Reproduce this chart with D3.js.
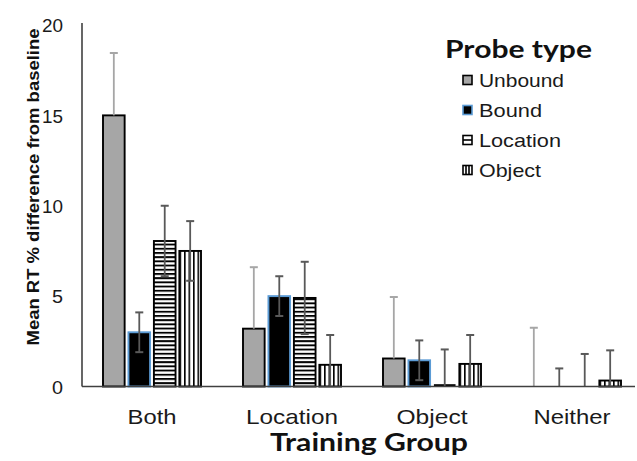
<!DOCTYPE html>
<html>
<head>
<meta charset="utf-8">
<script src="https://cdn.jsdelivr.net/npm/d3@7"></script>
<style>
  html, body { margin: 0; padding: 0; background: #fff; }
  svg { display: block; }
</style>
</head>
<body>
<svg id="chart" width="637" height="461"></svg>
<script>
// ---- data ----
const groups = ["Both", "Location", "Object", "Neither"];
const probeTypes = ["Unbound", "Bound", "Location", "Object"];
const unbound = [15.0, 3.2, 1.55, 0];
const bound = [3.0, 5.0, 1.45, 0];
const locationVals = [8.05, 4.9, 0.05, 0];
const objectVals = [7.5, 1.2, 1.25, 0.33];
const unboundErr = [3.45, 3.4, 3.4, 3.25];
const boundErr = [1.1, 1.1, 1.1, 1.0];
const locationErr = [1.95, 2.0, 2.0, 1.8];
const objectErr = [1.65, 1.65, 1.6, 1.67];
const yTicks = [0, 5, 10, 15, 20];

const values = [unbound, bound, locationVals, objectVals];
const errors = [unboundErr, boundErr, locationErr, objectErr];

const svg = d3.select("#chart");
const defs = svg.append("defs");

// patterns
const ph = defs.append("pattern").attr("id", "hstripe")
  .attr("patternUnits", "userSpaceOnUse").attr("width", 8).attr("height", 4.2);
ph.append("rect").attr("width", 8).attr("height", 4.2).attr("fill", "#fff");
ph.append("rect").attr("y", 0).attr("width", 8).attr("height", 1.9).attr("fill", "#000");

const pv = defs.append("pattern").attr("id", "vstripe")
  .attr("patternUnits", "userSpaceOnUse").attr("width", 4.5).attr("height", 8);
pv.append("rect").attr("width", 4.5).attr("height", 8).attr("fill", "#fff");
pv.append("rect").attr("x", 0).attr("width", 1.6).attr("height", 8).attr("fill", "#000");

const fills = ["#a6a6a6", "#000000", "url(#hstripe)", "url(#vstripe)"];
const strokes = ["#000000", "#5b9bd5", "#000000", "#000000"];
const errColors = ["#a6a6a6", "#595959", "#595959", "#595959"];

// scales
const x0 = d3.scaleBand().domain(groups).range([82, 642]).paddingInner(0.3).paddingOuter(0.15);
const x1 = d3.scaleBand().domain(probeTypes).range([0, x0.bandwidth()]).paddingInner(0.15).paddingOuter(0);
const y = d3.scaleLinear().domain([0, 20]).range([386.5, 25]);
const fullX = d3.scaleBand().domain(groups).range([82, 642]);

// bars
const gGroups = svg.append("g").selectAll("g").data(groups).join("g")
  .attr("transform", d => `translate(${x0(d)},0)`);

probeTypes.forEach((p, pi) => {
  gGroups.append("rect")
    .attr("x", x1(p))
    .attr("y", (d, gi) => y(values[pi][gi]))
    .attr("width", x1.bandwidth())
    .attr("height", (d, gi) => y(0) - y(values[pi][gi]))
    .attr("fill", fills[pi])
    .attr("stroke", (d, gi) => values[pi][gi] > 0.2 ? strokes[pi] : "none")
    .attr("stroke-width", 1.9);
});

// thin base line for near-zero location bar
gGroups.append("line")
  .attr("x1", x1("Location")).attr("x2", x1("Location") + x1.bandwidth())
  .attr("y1", (d, gi) => y(locationVals[gi]) - 0.5).attr("y2", (d, gi) => y(locationVals[gi]) - 0.5)
  .attr("stroke", (d, gi) => (locationVals[gi] > 0 && locationVals[gi] <= 0.2) ? "#000" : "none")
  .attr("stroke-width", 1.8);

// error bars
probeTypes.forEach((p, pi) => {
  const cx = x1(p) + x1.bandwidth() / 2;
  gGroups.each(function(d, gi) {
    const g = d3.select(this);
    const v = values[pi][gi], e = errors[pi][gi];
    const top = y(v + e);
    const lowVal = pi === 0 ? v : Math.max(0, v - e);
    const bot = y(lowVal);
    g.append("line").attr("x1", cx).attr("x2", cx).attr("y1", top).attr("y2", bot)
      .attr("stroke", errColors[pi]).attr("stroke-width", 1.8);
    g.append("line").attr("x1", cx - 4).attr("x2", cx + 4).attr("y1", top).attr("y2", top)
      .attr("stroke", errColors[pi]).attr("stroke-width", 2);
    if (pi !== 0 && v - e > 0) {
      g.append("line").attr("x1", cx - 4).attr("x2", cx + 4).attr("y1", bot).attr("y2", bot)
        .attr("stroke", errColors[pi]).attr("stroke-width", 2);
    }
  });
});

// axes
const yAxis = svg.append("g").attr("transform", "translate(82,0)")
  .call(d3.axisLeft(y).tickValues(yTicks).tickSize(0).tickPadding(19));
yAxis.select(".domain").attr("stroke", "#404040").attr("stroke-width", 1.6)
  .attr("d", `M0,${y(20) - 2}V${y(0)}`);
yAxis.selectAll("text").attr("font-family", "'Liberation Sans', Arial, sans-serif")
  .attr("font-size", 18.5).attr("fill", "#1a1a1a")
  .attr("textLength", 21).attr("lengthAdjust", "spacingAndGlyphs")
  .attr("dy", "0.36em");
yAxis.selectAll("text").filter(d => d < 10).attr("textLength", 11);

const xAxis = svg.append("g").attr("transform", `translate(0,${y(0)})`)
  .call(d3.axisBottom(fullX).tickSize(0).tickPadding(23));
xAxis.select(".domain").attr("stroke", "#404040").attr("stroke-width", 1.6)
  .attr("d", "M82,0H635");
const catLen = { "Both": 49, "Location": 92, "Object": 71, "Neither": 77 };
xAxis.selectAll("text").attr("font-family", "'Liberation Sans', Arial, sans-serif")
  .attr("font-size", 21).attr("fill", "#1a1a1a")
  .attr("textLength", d => catLen[d]).attr("lengthAdjust", "spacingAndGlyphs");

// axis titles
svg.append("text")
  .attr("x", 369).attr("y", 451).attr("text-anchor", "middle")
  .attr("font-family", "Lato, 'Open Sans', sans-serif").attr("font-weight", "bold")
  .attr("font-size", 25).attr("fill", "#111")
  .attr("textLength", 198).attr("lengthAdjust", "spacingAndGlyphs")
  .text("Training Group");

svg.append("text")
  .attr("transform", "translate(39,187) rotate(-90)")
  .attr("text-anchor", "middle")
  .attr("font-family", "'Liberation Sans', Arial, sans-serif").attr("font-weight", "bold")
  .attr("font-size", 16).attr("fill", "#111")
  .attr("textLength", 317).attr("lengthAdjust", "spacingAndGlyphs")
  .text("Mean RT % difference from baseline");

// legend
svg.append("text")
  .attr("x", 445).attr("y", 58)
  .attr("font-family", "Lato, 'Open Sans', sans-serif").attr("font-weight", "bold")
  .attr("font-size", 24).attr("fill", "#111")
  .attr("textLength", 147).attr("lengthAdjust", "spacingAndGlyphs")
  .text("Probe type");

const legLen = [85, 63, 82, 62];
const leg = svg.append("g").selectAll("g").data(probeTypes).join("g")
  .attr("transform", (d, i) => `translate(463,${80 + i * 30})`);
leg.append("rect").attr("x", 0).attr("y", -4.5).attr("width", 9).attr("height", 9)
  .attr("fill", (d, i) => i === 0 ? "#a6a6a6" : (i === 1 ? "#000" : "#fff"))
  .attr("stroke", (d, i) => strokes[i]).attr("stroke-width", 1.6);
leg.filter((d, i) => i === 2).append("line")
  .attr("x1", 0).attr("x2", 9).attr("y1", 0).attr("y2", 0).attr("stroke", "#000").attr("stroke-width", 1.6);
leg.filter((d, i) => i === 3).selectAll("line.v").data([3, 6]).join("line")
  .attr("x1", d => d).attr("x2", d => d).attr("y1", -4.5).attr("y2", 4.5)
  .attr("stroke", "#000").attr("stroke-width", 1.6);
leg.append("text").attr("x", 16).attr("y", 7)
  .attr("font-family", "'Liberation Sans', Arial, sans-serif")
  .attr("font-size", 18.5).attr("fill", "#1a1a1a")
  .attr("textLength", (d, i) => legLen[i]).attr("lengthAdjust", "spacingAndGlyphs")
  .text(d => d);
</script>
</body>
</html>
